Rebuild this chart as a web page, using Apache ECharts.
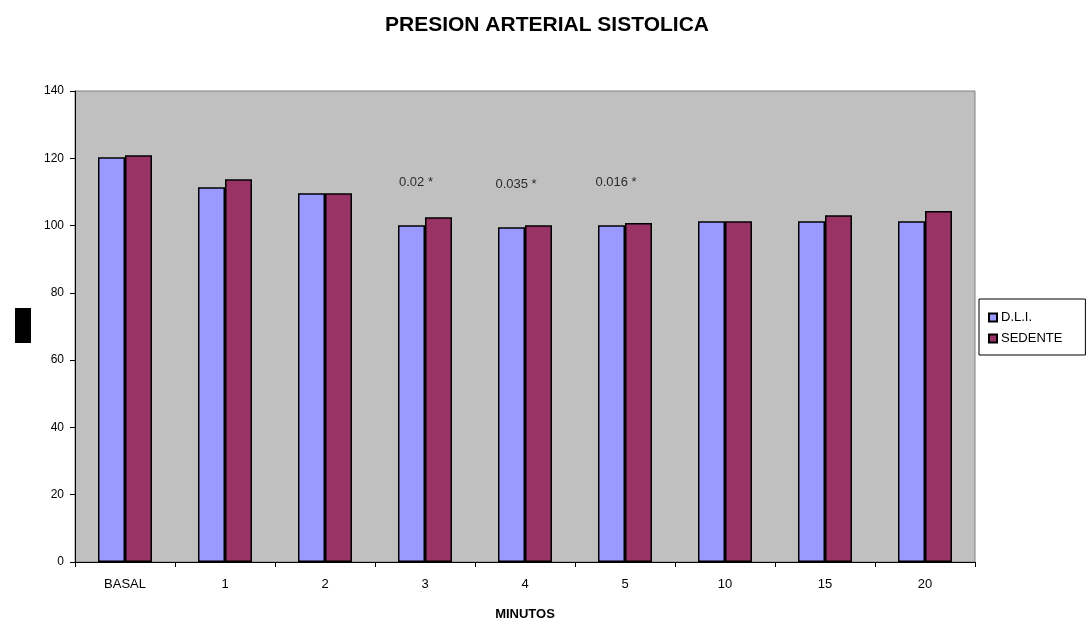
<!DOCTYPE html>
<html>
<head>
<meta charset="utf-8">
<script src="https://cdn.jsdelivr.net/npm/echarts@6/dist/echarts.min.js"></script>
<style>
  html, body { margin: 0; padding: 0; background: #fff; }
  #chart { width: 1090px; height: 623px; }
</style>
</head>
<body>
<div id="chart"></div>
<script>
// Minutes after the start, systolic pressure per group
const categories = ['BASAL', '1', '2', '3', '4', '5', '10', '15', '20'];
const dliValues = [120.3, 111.4, 109.6, 100.1, 99.5, 100.1, 101.3, 101.3, 101.3];
const sedenteValues = [120.9, 113.8, 109.6, 102.5, 100.1, 100.8, 101.3, 103.1, 104.3];

// p-values printed above the significant minutes
const noteCategories = ['3', '4', '5'];
const noteTexts = ['0.02 *', '0.035 *', '0.016 *'];
const noteLevels = [112.7, 112.2, 112.7];

const yTicks = { min: 0, max: 140, interval: 20 };

const FONT = 'Liberation Sans, Arial, sans-serif';
const chart = echarts.init(document.getElementById('chart'));

chart.setOption({
  animation: false,
  backgroundColor: '#ffffff',
  textStyle: { fontFamily: FONT },
  title: {
    text: 'PRESION ARTERIAL SISTOLICA',
    left: 542, top: 10, textAlign: 'center',
    textStyle: { fontFamily: FONT, fontSize: 21, fontWeight: 'bold', color: '#000' }
  },
  legend: {
    orient: 'vertical',
    left: 979, top: 299,
    padding: [12, 23, 10, 9],
    itemGap: 8,
    itemWidth: 8, itemHeight: 8,
    icon: 'rect',
    borderColor: '#000', borderWidth: 1,
    textStyle: { fontFamily: FONT, fontSize: 13, color: '#000', padding: [0, 0, 0, -1] },
    data: ['D.L.I.', 'SEDENTE']
  },
  grid: {
    left: 75, right: 115, top: 91, bottom: 61,
    outerBoundsMode: 'none',
    containLabel: false,
    show: true, backgroundColor: '#c0c0c0', borderColor: '#808080', borderWidth: 1
  },
  xAxis: {
    type: 'category',
    data: categories,
    name: 'MINUTOS',
    nameLocation: 'middle',
    nameGap: 46,
    nameTextStyle: { fontFamily: FONT, fontSize: 13, fontWeight: 'bold', color: '#000' },
    axisLine: { lineStyle: { color: '#000', width: 1 } },
    axisTick: { show: true, length: 5, lineStyle: { color: '#000' } },
    axisLabel: { fontFamily: FONT, fontSize: 13, color: '#000', margin: 16 }
  },
  yAxis: {
    type: 'value',
    min: yTicks.min, max: yTicks.max, interval: yTicks.interval,
    axisLine: { show: true, lineStyle: { color: '#000', width: 1 } },
    axisTick: { show: true, length: 5, lineStyle: { color: '#000' } },
    axisLabel: { fontFamily: FONT, fontSize: 12, color: '#000', margin: 11 },
    splitLine: { show: false }
  },
  graphic: [
    { type: 'rect', left: 15, top: 308, shape: { width: 16, height: 35 }, style: { fill: '#000' } }
  ],
  series: [
    {
      name: 'D.L.I.', type: 'bar', data: dliValues,
      barGap: '0%', barCategoryGap: '46%',
      itemStyle: { color: '#9999ff', borderColor: '#000', borderWidth: 1.5 }
    },
    {
      name: 'SEDENTE', type: 'bar', data: sedenteValues,
      itemStyle: { color: '#993366', borderColor: '#000', borderWidth: 1.5 }
    },
    {
      name: 'notes', type: 'scatter',
      symbolSize: 0, silent: true,
      data: noteCategories.map((c, i) => ({ value: [c, noteLevels[i]], text: noteTexts[i] })),
      label: {
        show: true, position: 'inside', offset: [-9, 0],
        formatter: p => p.data.text,
        fontFamily: FONT, fontSize: 13, color: '#000'
      }
    }
  ]
});
</script>
</body>
</html>
